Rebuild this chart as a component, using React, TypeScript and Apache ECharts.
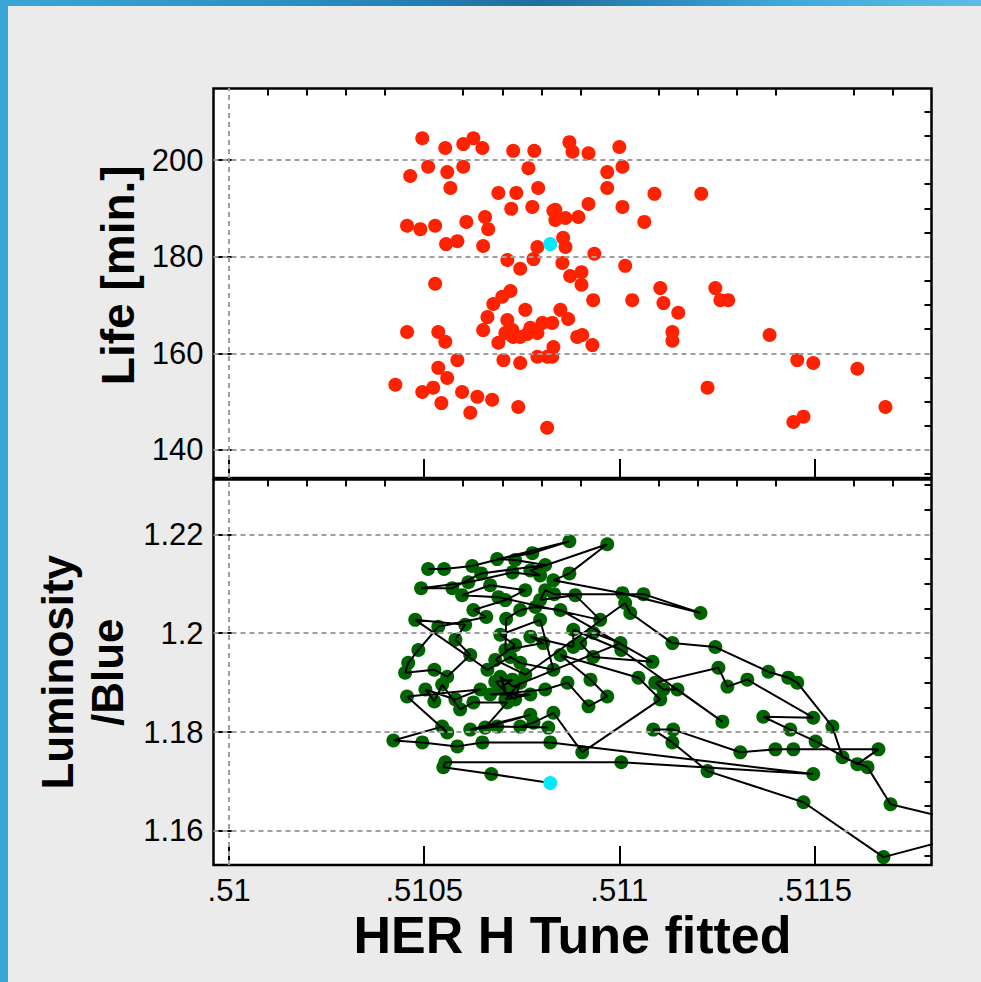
import React, { useEffect, useRef } from 'react';
import * as echarts from 'echarts';

// ---------- axis ticks ----------
const xMajorTicks = [0.51, 0.5105, 0.511, 0.5115];
const xTickLabels = ['.51', '.5105', '.511', '.5115'];
const xMinorTicks = [0.5101, 0.5102, 0.5103, 0.5104, 0.5106, 0.5107, 0.5108, 0.5109, 0.5111, 0.5112, 0.5113, 0.5114, 0.5116, 0.5117];
const lifeMajorTicks = [140, 160, 180, 200];
const lifeTickLabels = ['140', '160', '180', '200'];
const lifeMinorTicks = [135, 145, 150, 155, 165, 170, 175, 185, 190, 195, 205, 210];
const lumiMajorTicks = [1.16, 1.18, 1.2, 1.22];
const lumiTickLabels = ['1.16', '1.18', '1.2', '1.22'];
const lumiMinorTicks = [1.155, 1.165, 1.17, 1.175, 1.185, 1.19, 1.195, 1.205, 1.21, 1.215, 1.225, 1.23];

// ---------- top panel: beam life vs tune ----------
const lifeTune = [
  0.510495, 0.510554, 0.5106, 0.510626, 0.510649, 0.510728, 0.510782, 0.510767, 0.510872, 0.51088,
  0.510921, 0.511, 0.510464, 0.51051, 0.510559, 0.5106, 0.510567, 0.51069, 0.510736, 0.510723,
  0.510792, 0.510777, 0.510831, 0.510862, 0.510895, 0.510456, 0.51049, 0.510528, 0.510608, 0.510656,
  0.510664, 0.510556, 0.510585, 0.510651, 0.510713, 0.510746, 0.51078, 0.51079, 0.510856, 0.510862,
  0.510854, 0.510874, 0.510903, 0.510903, 0.510528, 0.510721, 0.5107, 0.510677, 0.510662, 0.510651,
  0.510759, 0.510713, 0.510726, 0.510746, 0.510772, 0.510803, 0.510828, 0.510849, 0.510869, 0.51069,
  0.510703, 0.510746, 0.51079, 0.510815, 0.510831, 0.510728, 0.510892, 0.510456, 0.510536, 0.510554,
  0.510585, 0.510536, 0.510559, 0.510426, 0.510495, 0.510523, 0.510544, 0.510597, 0.510636, 0.510674,
  0.510618, 0.510741, 0.510815, 0.510969, 0.510969, 0.511008, 0.51109, 0.51121, 0.510921, 0.511008,
  0.510836, 0.510836, 0.511064, 0.510936, 0.511015, 0.510933, 0.511033, 0.511105, 0.511113, 0.511151,
  0.511246, 0.511259, 0.511279, 0.511136, 0.511136, 0.510905, 0.510931, 0.511385, 0.511456, 0.511497,
  0.51161, 0.511226, 0.511682, 0.511446, 0.511472, 0.510828, 0.510764, 0.51079, 0.510708,
];
const lifeMinutes = [
  204.5, 202.5, 203.3, 204.5, 202.5, 201.9, 201.9, 198.3, 203.7, 201.7,
  201.4, 202.7, 196.7, 198.6, 197.5, 198.6, 194.2, 193.2, 193.2, 189.9,
  194.2, 190.3, 189.5, 188.0, 188.2, 186.4, 185.7, 186.4, 187.2, 188.2,
  185.7, 182.6, 183.2, 182.2, 179.3, 177.5, 179.5, 182.0, 183.9, 182.0,
  178.7, 176.0, 176.8, 174.2, 174.4, 172.9, 171.7, 170.2, 167.5, 164.8,
  169.0, 166.9, 164.8, 163.4, 165.3, 166.3, 166.3, 169.0, 167.1, 162.2,
  158.6, 158.0, 159.3, 159.3, 161.3, 163.4, 163.4, 164.4, 164.4, 162.4,
  158.6, 157.0, 154.9, 153.5, 152.0, 152.9, 149.7, 152.0, 151.0, 150.4,
  147.7, 148.9, 144.6, 197.5, 194.2, 198.6, 193.0, 193.0, 190.9, 190.3,
  189.7, 187.6, 187.2, 180.6, 178.1, 171.0, 171.0, 173.5, 170.4, 168.4,
  173.5, 171.0, 171.0, 164.4, 162.6, 163.8, 161.7, 163.8, 158.6, 158.0,
  156.8, 152.9, 148.9, 145.8, 146.9, 159.3, 164.0, 164.2, 164.2,
];
const lifeLatest = [0.510823, 182.6];

// ---------- bottom panel: luminosity/blue vs tune (time ordered) ----------
const lumiTune = [
  0.51051, 0.510551, 0.510623, 0.510872, 0.510777, 0.510687, 0.510733, 0.51081, 0.510646, 0.510572,
  0.510492, 0.510613, 0.510726, 0.510797, 0.510772, 0.510969, 0.510872, 0.510831, 0.511008, 0.511208,
  0.511062, 0.510833, 0.51081, 0.510797, 0.510887, 0.510951, 0.51069, 0.510597, 0.510669, 0.510759,
  0.510708, 0.510626, 0.510659, 0.510536, 0.510485, 0.510459, 0.510451, 0.510526, 0.510559, 0.510618,
  0.51058, 0.510605, 0.510477, 0.510662, 0.510721, 0.510746, 0.510831, 0.510797, 0.510695, 0.510733,
  0.510682, 0.510759, 0.511015, 0.511028, 0.511136, 0.511246, 0.511382, 0.511433, 0.511456, 0.511546,
  0.511572, 0.511636, 0.511695, 0.511874, 0.511874, 0.511677, 0.511472, 0.511226, 0.511136, 0.511087,
  0.511138, 0.51131, 0.5114, 0.511446, 0.511664, 0.51161, 0.511503, 0.511438, 0.511369, 0.511497,
  0.511328, 0.511277, 0.511254, 0.511092, 0.511113, 0.511149, 0.511264, 0.511005, 0.510882, 0.510882,
  0.510772, 0.510805, 0.510708, 0.51071, 0.510746, 0.510785, 0.510849, 0.511085, 0.510933, 0.5109,
  0.510933, 0.511003, 0.510728, 0.510695, 0.510708, 0.510695, 0.510726, 0.510682, 0.510715, 0.510733,
  0.510746, 0.510708, 0.510772, 0.510669, 0.51081, 0.510867, 0.510921, 0.510969, 0.510926, 0.510849,
  0.511049, 0.511105, 0.510905, 0.510831, 0.51078, 0.510746, 0.510818, 0.510687, 0.510618, 0.510772,
  0.510656, 0.510713, 0.510626, 0.510592, 0.510546, 0.510526, 0.510503, 0.51058, 0.510644, 0.510456,
  0.510559, 0.510546, 0.510421, 0.510495, 0.510585, 0.510649, 0.510823, 0.511497, 0.511005, 0.510554,
  0.510549, 0.510672,
];
const lumiPerBlue = [
  1.2130, 1.2130, 1.2136, 1.2186, 1.2162, 1.2150, 1.2148, 1.2138, 1.2121, 1.2091,
  1.2091, 1.2103, 1.2123, 1.2117, 1.2127, 1.2180, 1.2121, 1.2107, 1.2081, 1.2041,
  1.2079, 1.2079, 1.2087, 1.2067, 1.2077, 1.2027, 1.2073, 1.2077, 1.2097, 1.2087,
  1.2067, 1.2047, 1.2033, 1.2013, 1.1966, 1.1940, 1.1920, 1.1926, 1.1912, 1.1956,
  1.1987, 1.2017, 1.2027, 1.1926, 1.1952, 1.1940, 1.1926, 1.2027, 1.1997, 1.1976,
  1.1946, 1.1916, 1.2061, 1.2041, 1.1980, 1.1972, 1.1922, 1.1910, 1.1900, 1.1811,
  1.1749, 1.1729, 1.1654, 1.1620, 1.1588, 1.1547, 1.1658, 1.1721, 1.1779, 1.1805,
  1.1805, 1.1759, 1.1765, 1.1765, 1.1765, 1.1735, 1.1781, 1.1805, 1.1831, 1.1829,
  1.1906, 1.1892, 1.1930, 1.1900, 1.1886, 1.1886, 1.1821, 1.1966, 1.2007, 1.1972,
  1.1993, 1.1980, 1.1966, 1.2029, 1.2047, 1.2053, 1.2047, 1.1942, 1.1952, 1.1980,
  1.2001, 1.1980, 1.1892, 1.1912, 1.1886, 1.1890, 1.1906, 1.1902, 1.1876, 1.1866,
  1.1900, 1.1866, 1.1876, 1.1876, 1.1886, 1.1900, 1.1852, 1.1872, 1.1906, 1.1956,
  1.1910, 1.1866, 1.1759, 1.1839, 1.1819, 1.1811, 1.1809, 1.1811, 1.1805, 1.1835,
  1.1809, 1.1860, 1.1860, 1.1846, 1.1896, 1.1862, 1.1886, 1.1866, 1.1886, 1.1872,
  1.1799, 1.1811, 1.1783, 1.1779, 1.1771, 1.1779, 1.1779, 1.1715, 1.1739, 1.1739,
  1.1729, 1.1715,
];
const lumiLatest = [0.510823, 1.1697];

// ---------- ranges ----------
const xRange = [0.50996, 0.5118];
const lifeRange = [134.2, 214.8];
const lumiRange = [1.1531, 1.2311];

const FONT = '"Liberation Sans", Arial, Helvetica, sans-serif';

function pickLabel(ticks: number[], labels: string[]) {
  return (v: number) => {
    const i = ticks.findIndex((t) => Math.abs(t - v) < 1e-7);
    return i >= 0 ? labels[i] : '';
  };
}

function tickAxis(opts: any) {
  const { gridIndex, range, ticks, length, labels, labelTicks, margin, lineHeight, name, nameGap, nameStyle, nameRotate } = opts;
  const ax: any = {
    type: 'value',
    gridIndex,
    min: range[0],
    max: range[1],
    axisLine: { show: false },
    splitLine: { show: false },
    axisTick: {
      show: true,
      inside: true,
      length,
      customValues: ticks,
      lineStyle: { color: '#000', width: 2 },
    },
    axisLabel: labels
      ? {
          show: true,
          customValues: labelTicks,
          formatter: pickLabel(labelTicks, labels),
          fontSize: 31,
          lineHeight,
          fontFamily: FONT,
          color: '#000',
          margin,
        }
      : { show: false },
  };
  if (name) {
    ax.name = name;
    ax.nameLocation = 'middle';
    ax.nameGap = nameGap;
    ax.nameTextStyle = nameStyle;
    if (nameRotate !== undefined) ax.nameRotate = nameRotate;
  }
  return ax;
}

const gridLineStyle = { type: [5, 4], color: '#9e9e9e', width: 2 };

function buildOption() {
  const lifePoints = lifeTune.map((x, i) => [x, lifeMinutes[i]]);
  const lumiPoints = lumiTune.map((x, i) => [x, lumiPerBlue[i]]);
  const lastPoint = lumiPoints[lumiPoints.length - 1];

  return {
    animation: false,
    grid: [
      { left: 213.5, top: 88.5, width: 718, height: 389.5, show: true, backgroundColor: '#fff', borderColor: '#000', borderWidth: 2.5 },
      { left: 213.5, top: 479.5, width: 718, height: 385.5, show: true, backgroundColor: '#fff', borderColor: '#000', borderWidth: 2.5 },
    ],
    xAxis: [
      tickAxis({ gridIndex: 0, range: xRange, ticks: xMajorTicks, length: 19 }),
      tickAxis({ gridIndex: 0, range: xRange, ticks: xMinorTicks, length: 7 }),
      tickAxis({
        gridIndex: 1, range: xRange, ticks: xMajorTicks, length: 19,
        labels: xTickLabels, labelTicks: xMajorTicks, margin: 12, lineHeight: 27,
        name: 'HER H Tune fitted', nameGap: 48,
        nameStyle: { fontSize: 52, lineHeight: 44, fontWeight: 'bold', color: '#000', fontFamily: FONT },
      }),
      tickAxis({ gridIndex: 1, range: xRange, ticks: xMinorTicks, length: 7 }),
    ],
    yAxis: [
      tickAxis({
        gridIndex: 0, range: lifeRange, ticks: lifeMajorTicks, length: 19,
        labels: lifeTickLabels, labelTicks: lifeMajorTicks, margin: 10, lineHeight: 31,
        name: 'Life [min.]', nameGap: 64, nameRotate: 90,
        nameStyle: { fontSize: 46, fontWeight: 'bold', color: '#000', fontFamily: FONT, padding: [0, 0, 0, 16] },
      }),
      tickAxis({ gridIndex: 0, range: lifeRange, ticks: lifeMinorTicks, length: 7 }),
      tickAxis({
        gridIndex: 1, range: lumiRange, ticks: lumiMajorTicks, length: 19,
        labels: lumiTickLabels, labelTicks: lumiMajorTicks, margin: 10, lineHeight: 31,
        name: 'Luminosity\n/Blue', nameGap: 72, nameRotate: 90,
        nameStyle: { fontSize: 44, fontWeight: 'bold', color: '#000', fontFamily: FONT, lineHeight: 50 },
      }),
      tickAxis({ gridIndex: 1, range: lumiRange, ticks: lumiMinorTicks, length: 7 }),
    ],
    series: [
      {
        type: 'scatter', xAxisIndex: 0, yAxisIndex: 0, z: 2, clip: true,
        symbol: 'circle', symbolSize: 14, data: lifePoints,
        itemStyle: { color: '#ff2200', opacity: 1 },
      },
      {
        type: 'scatter', xAxisIndex: 0, yAxisIndex: 0, z: 4, clip: true,
        symbol: 'circle', symbolSize: 14, data: [lifeLatest],
        itemStyle: { color: '#00eaff', opacity: 1 },
      },
      {
        type: 'scatter', xAxisIndex: 2, yAxisIndex: 2, z: 2, clip: true,
        symbol: 'circle', symbolSize: 14, data: lumiPoints,
        itemStyle: { color: '#006400', opacity: 1 },
      },
      {
        type: 'line', xAxisIndex: 2, yAxisIndex: 2, z: 3, clip: true,
        showSymbol: false, symbol: 'none', data: lumiPoints,
        lineStyle: { color: '#000', width: 2 },
      },
      {
        type: 'line', xAxisIndex: 2, yAxisIndex: 2, z: 3, clip: true,
        showSymbol: false, symbol: 'none', data: [lastPoint, [lumiLatest[0], lumiLatest[1]]],
        lineStyle: { color: '#000', width: 2 },
      },
      {
        type: 'scatter', xAxisIndex: 2, yAxisIndex: 2, z: 4, clip: true,
        symbol: 'circle', symbolSize: 14, data: [lumiLatest],
        itemStyle: { color: '#00eaff', opacity: 1 },
      },
      {
        type: 'line', xAxisIndex: 0, yAxisIndex: 0, z: 10, data: [],
        markLine: {
          silent: true, symbol: ['none', 'none'], label: { show: false },
          lineStyle: gridLineStyle, animation: false,
          data: [...xMajorTicks.map((v) => ({ xAxis: v })), ...lifeMajorTicks.map((v) => ({ yAxis: v }))],
        },
      },
      {
        type: 'line', xAxisIndex: 2, yAxisIndex: 2, z: 10, data: [],
        markLine: {
          silent: true, symbol: ['none', 'none'], label: { show: false },
          lineStyle: gridLineStyle, animation: false,
          data: [...xMajorTicks.map((v) => ({ xAxis: v })), ...lumiMajorTicks.map((v) => ({ yAxis: v }))],
        },
      },
    ],
  };
}

export default function App() {
  const ref = useRef<HTMLDivElement>(null);
  useEffect(() => {
    if (!ref.current) return;
    const chart = echarts.init(ref.current, null, { renderer: 'svg' });
    chart.setOption(buildOption() as any);
    return () => chart.dispose();
  }, []);
  return (
    <div
      style={{
        position: 'fixed', left: 0, top: 0, width: 981, height: 982, overflow: 'hidden',
        background: 'linear-gradient(90deg, #3aa6d6 0%, #2b8fc4 30%, #1d6f9f 55%, #3ea9d8 80%, #5cbde6 100%)',
      }}
    >
      <div style={{ position: 'absolute', left: 8, top: 6, right: 0, bottom: 0, background: '#ebebeb' }} />
      <div ref={ref} style={{ position: 'absolute', left: 0, top: 0, width: 981, height: 982 }} />
    </div>
  );
}
